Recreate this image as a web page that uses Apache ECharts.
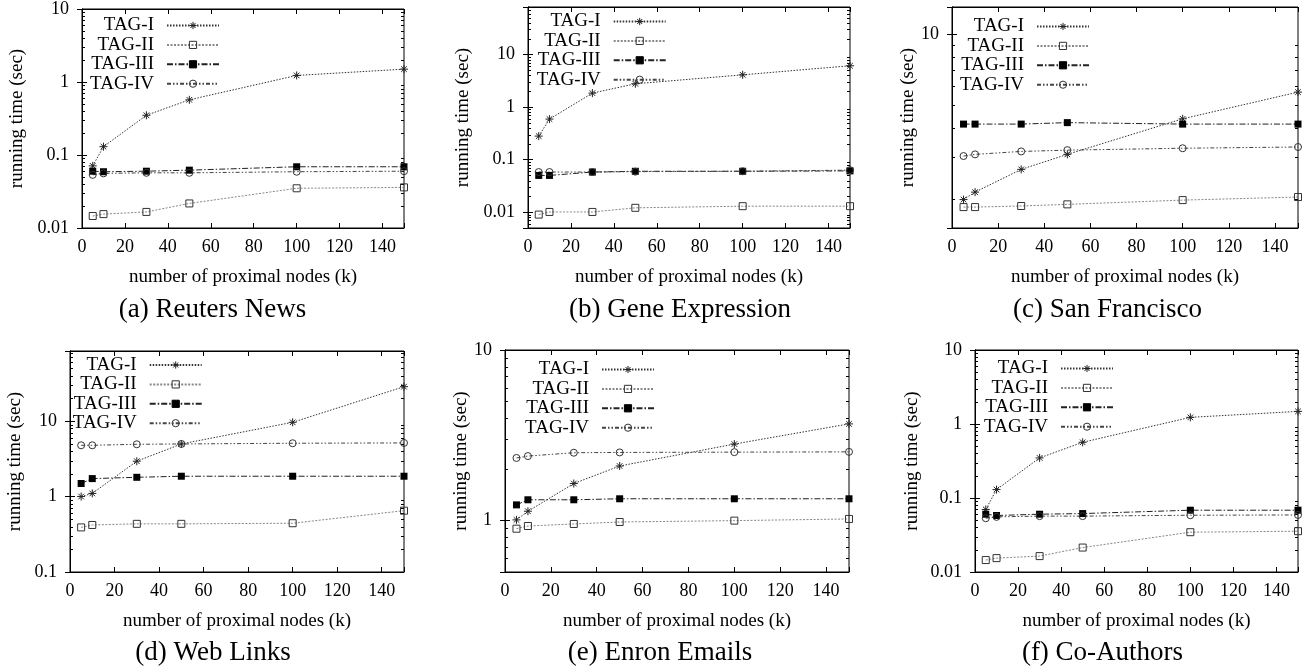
<!DOCTYPE html>
<html>
<head>
<meta charset="utf-8">
<script src="https://cdn.jsdelivr.net/npm/echarts@6/dist/echarts.min.js"></script>
<style>
html,body{margin:0;padding:0;background:#fff;}
#chart{width:1311px;height:672px;}
</style>
</head>
<body>
<div id="chart"></div>
<script>
// ---------- data ----------
const kValues = [5, 10, 30, 50, 100, 150];
const seriesNames = ['TAG-I', 'TAG-II', 'TAG-III', 'TAG-IV'];
const xTickLabels = [0, 20, 40, 60, 80, 100, 120, 140];
const captions = ['(a) Reuters News', '(b) Gene Expression', '(c) San Francisco',
                  '(d) Web Links', '(e) Enron Emails', '(f) Co-Authors'];
const xAxisName = 'number of proximal nodes (k)';
const yAxisName = 'running time (sec)';

// (a) Reuters News
const reutersTag1 = [0.071, 0.13, 0.35, 0.57, 1.23, 1.5];
const reutersTag2 = [0.0146, 0.0155, 0.0166, 0.0217, 0.035, 0.036];
const reutersTag3 = [0.06, 0.059, 0.06, 0.062, 0.069, 0.069];
const reutersTag4 = [0.0535, 0.056, 0.057, 0.057, 0.059, 0.06];
// (b) Gene Expression
const geneTag1 = [0.28, 0.59, 1.84, 2.77, 4.1, 6.1];
const geneTag2 = [0.009, 0.0101, 0.0101, 0.0121, 0.013, 0.013];
const geneTag3 = [0.05, 0.05, 0.058, 0.06, 0.06, 0.061];
const geneTag4 = [0.058, 0.058, 0.058, 0.059, 0.06, 0.063];
// (c) San Francisco
const sfTag1 = [1.98, 2.13, 2.66, 3.08, 4.36, 5.66];
const sfTag2 = [1.84, 1.84, 1.86, 1.89, 1.97, 2.03];
const sfTag3 = [4.14, 4.14, 4.14, 4.2, 4.14, 4.14];
const sfTag4 = [3.03, 3.08, 3.17, 3.21, 3.27, 3.31];
// (d) Web Links
const webTag1 = [1.0, 1.1, 2.94, 4.98, 9.65, 28.6];
const webTag2 = [0.39, 0.42, 0.435, 0.435, 0.443, 0.65];
const webTag3 = [1.49, 1.73, 1.8, 1.86, 1.86, 1.86];
const webTag4 = [4.78, 4.78, 4.93, 4.98, 5.09, 5.14];
// (e) Enron Emails
const enronTag1 = [1.01, 1.135, 1.65, 2.09, 2.81, 3.69];
const enronTag2 = [0.897, 0.93, 0.956, 0.982, 1.0, 1.023];
const enronTag3 = [1.237, 1.325, 1.325, 1.343, 1.343, 1.343];
const enronTag4 = [2.33, 2.39, 2.5, 2.51, 2.52, 2.53];
// (f) Co-Authors
const coTag1 = [0.07, 0.13, 0.348, 0.566, 1.23, 1.48];
const coTag2 = [0.0145, 0.0154, 0.0164, 0.0214, 0.0345, 0.0356];
const coTag3 = [0.0604, 0.058, 0.0604, 0.0616, 0.0684, 0.0684];
const coTag4 = [0.0533, 0.0556, 0.0569, 0.0569, 0.0585, 0.059];

const yRanges = [[0.01, 10], [0.005, 80], [1.5, 13], [0.1, 85], [0.5, 10], [0.01, 10]];
const minorMultipliers = [2, 3, 4, 5, 6, 7, 8, 9];

// ---------- layout / style ----------
const FONT = 'Liberation Serif';
const panels = [
  {grid: [82, 7, 322, 221],  nameGap: 55, legend: [1091, 16], caption: [212.5, 296], data: [reutersTag1, reutersTag2, reutersTag3, reutersTag4]},
  {grid: [528, 7, 322, 221], nameGap: 55, legend: [644.3, 12], caption: [680, 296], data: [geneTag1, geneTag2, geneTag3, geneTag4]},
  {grid: [952, 7, 346, 221], nameGap: 32, legend: [221, 17], caption: [1107.5, 296], data: [sfTag1, sfTag2, sfTag3, sfTag4]},
  {grid: [70, 351, 334, 221], nameGap: 45, legend: [1108.3, 355.5], caption: [213, 639.5], data: [webTag1, webTag2, webTag3, webTag4]},
  {grid: [505, 350, 344, 222], nameGap: 33, legend: [656, 360], caption: [660, 639.5], data: [enronTag1, enronTag2, enronTag3, enronTag4]},
  {grid: [975, 350, 323, 222], nameGap: 53, legend: [197, 359], caption: [1102.5, 639.5], data: [coTag1, coTag2, coTag3, coTag4]}
];

const STAR = 'path://M0,5L10,5M5,0L5,10M1.5,1.5L8.5,8.5M8.5,1.5L1.5,8.5';
const seriesStyles = [
  {symbol: STAR, symbolSize: 8, itemStyle: {color: '#222', borderColor: '#222', borderWidth: 1},
   lineStyle: {color: '#333', width: 1, type: [1.5, 1.5]}},
  {symbol: 'rect', symbolSize: 7, itemStyle: {color: 'rgba(255,255,255,0)', borderColor: '#333', borderWidth: 1},
   lineStyle: {color: '#888', width: 1, type: [2, 1.5]}},
  {symbol: 'rect', symbolSize: 7, itemStyle: {color: '#000', borderColor: '#000', borderWidth: 0},
   lineStyle: {color: '#222', width: 1, type: [6, 2, 1.5, 2]}},
  {symbol: 'circle', symbolSize: 7, itemStyle: {color: 'rgba(255,255,255,0)', borderColor: '#333', borderWidth: 1},
   lineStyle: {color: '#444', width: 1, type: [4, 2, 1.5, 2, 1.5, 2]}}
];

function logLabel(v) {
  const l = Math.log10(v);
  const r = Math.round(l);
  if (Math.abs(l - r) > 1e-6) return '';
  return String(Math.pow(10, r));
}

// minor log ticks (2..9 of each decade) inside the axis range
function minorTicksFor(range) {
  const out = [];
  const lo = Math.floor(Math.log10(range[0]));
  const hi = Math.ceil(Math.log10(range[1]));
  for (let d = lo; d < hi; d++) {
    minorMultipliers.forEach(m => {
      const v = m * Math.pow(10, d);
      if (v > range[0] * 1.0001 && v < range[1] * 0.9999) out.push([0, v]);
    });
  }
  return out;
}

const option = {
  animation: false,
  backgroundColor: '#fff',
  grid: [], xAxis: [], yAxis: [], series: [], legend: [], title: []
};

const axisLineStyle = {show: true, lineStyle: {color: '#000', width: 1}};
const tickStyle = {show: true, inside: true, length: 5, lineStyle: {color: '#000', width: 1}};

panels.forEach((p, i) => {
  const [gl, gt, gw, gh] = p.grid;
  option.grid.push({left: gl, top: gt, width: gw, height: gh, show: true,
                    borderColor: '#000', borderWidth: 1, backgroundColor: 'transparent'});
  option.xAxis.push({
    gridIndex: i, type: 'value', min: 0, max: 150, interval: 20, position: 'bottom',
    name: xAxisName, nameLocation: 'middle', nameGap: 40,
    nameTextStyle: {fontFamily: FONT, fontSize: 19, color: '#000'},
    axisLine: axisLineStyle, axisTick: tickStyle,
    axisLabel: {margin: 10, fontFamily: FONT, fontSize: 18, color: '#000',
      formatter: v => (xTickLabels.indexOf(v) >= 0 ? String(v) : '')},
    splitLine: {show: false}
  });
  option.xAxis.push({
    gridIndex: i, type: 'value', min: 0, max: 150, interval: 20, position: 'top',
    axisLine: axisLineStyle, axisTick: tickStyle, axisLabel: {show: false}, splitLine: {show: false}
  });
  option.yAxis.push({
    gridIndex: i, type: 'log', logBase: 10, min: yRanges[i][0], max: yRanges[i][1], position: 'left',
    name: yAxisName, nameLocation: 'middle', nameGap: p.nameGap, nameRotate: 90,
    nameTextStyle: {fontFamily: FONT, fontSize: 19, color: '#000'},
    axisLine: axisLineStyle, axisTick: tickStyle,
    axisLabel: {margin: 13, fontFamily: FONT, fontSize: 18, color: '#000', formatter: logLabel},
    splitLine: {show: false}
  });
  option.yAxis.push({
    gridIndex: i, type: 'log', logBase: 10, min: yRanges[i][0], max: yRanges[i][1], position: 'right',
    axisLine: axisLineStyle, axisTick: tickStyle, axisLabel: {show: false}, splitLine: {show: false}
  });
  p.data.forEach((vals, s) => {
    const st = seriesStyles[s];
    option.series.push({
      type: 'line', name: seriesNames[s], xAxisIndex: 2 * i, yAxisIndex: 2 * i,
      data: kValues.map((k, j) => [k, vals[j]]),
      symbol: st.symbol, symbolSize: st.symbolSize, showSymbol: true,
      itemStyle: st.itemStyle, lineStyle: st.lineStyle,
      emphasis: {disabled: true}, silent: true, z: 3
    });
  });
  // minor ticks on both vertical sides
  option.series.push({
    type: 'custom', xAxisIndex: 2 * i, yAxisIndex: 2 * i, silent: true, z: 2,
    data: minorTicksFor(yRanges[i]),
    clip: false,
    renderItem: function (params, api) {
      const cs = params.coordSys;
      const pt = api.coord([0, api.value(1)]);
      const y = Math.round(pt[1]) + 0.5;
      const style = {stroke: '#000', lineWidth: 1};
      return {
        type: 'group',
        children: [
          {type: 'line', shape: {x1: cs.x, y1: y, x2: cs.x + 3, y2: y}, style: style},
          {type: 'line', shape: {x1: cs.x + cs.width - 3, y1: y, x2: cs.x + cs.width, y2: y}, style: style}
        ]
      };
    }
  });
  option.legend.push({
    orient: 'vertical', align: 'right', right: p.legend[0], top: p.legend[1],
    itemWidth: 52, itemHeight: 9, itemGap: 0.4, padding: 0,
    selectedMode: false,
    itemStyle: {borderWidth: 1},
    textStyle: {fontFamily: FONT, fontSize: 19, color: '#000', lineHeight: 19, padding: [0, 8, 0, 0]},
    data: seriesNames
  });
  option.title.push({
    text: captions[i], left: p.caption[0], top: p.caption[1], textAlign: 'center', padding: 0,
    textStyle: {fontFamily: FONT, fontSize: 27, fontWeight: 'normal', color: '#000'}
  });
});

const chart = echarts.init(document.getElementById('chart'), null, {renderer: 'canvas'});
chart.setOption(option);
</script>
</body>
</html>
